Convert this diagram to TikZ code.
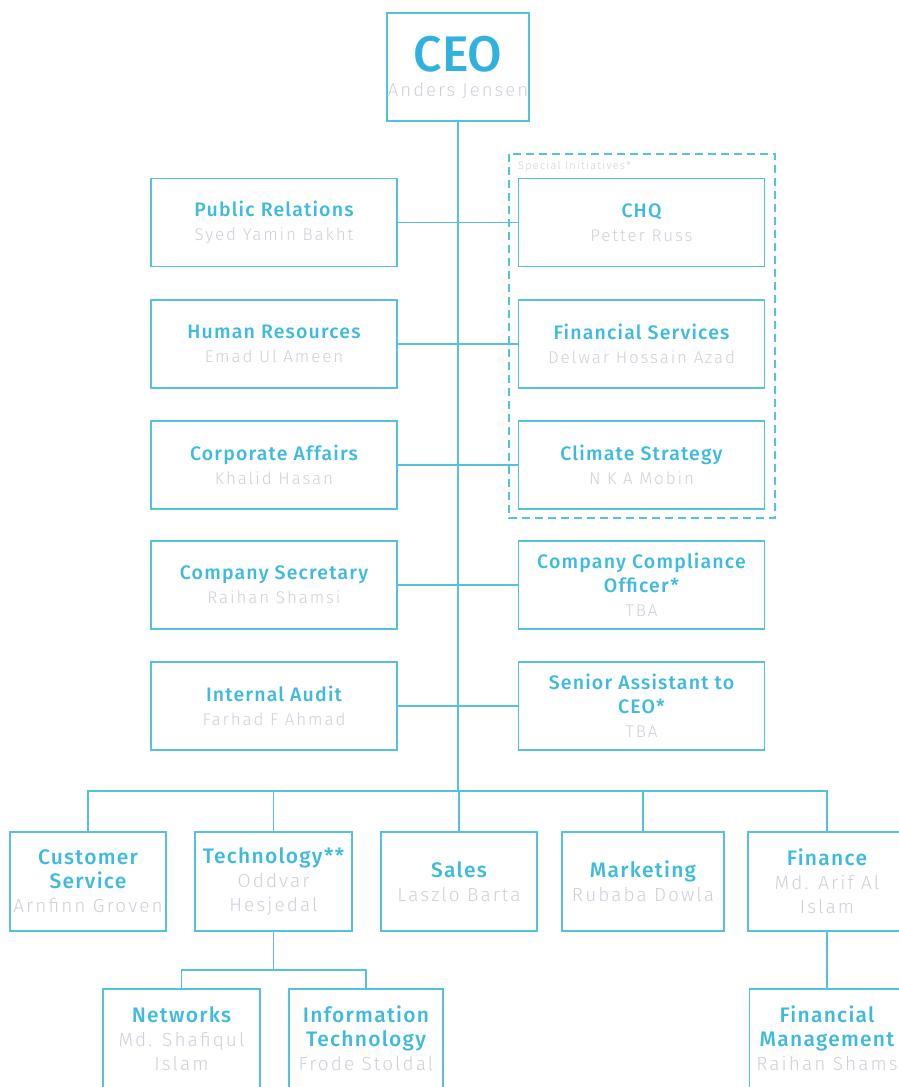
\documentclass[tikz,border=0pt]{standalone}
\usepackage{fontspec}
\setmainfont{Fira Sans}[BoldFont={Fira Sans Medium}]
\newfontfamily\ttlfont{Fira Sans}[BoldFont={Fira Sans Medium}, LetterSpace=6]
\newfontfamily\namefont{Fira Sans Light}[LetterSpace=11]
\definecolor{boxline}{HTML}{52C3DA}
\definecolor{titlecol}{HTML}{3EBADC}
\definecolor{ceocol}{HTML}{2FB2E0}
\definecolor{namecol}{HTML}{CFCFDC}
% person names: side boxes and lower boxes
\newcommand\who[1]{{\color{namecol}\fontsize{17}{24}\namefont\mdseries #1}}
\newcommand\whob[1]{{\color{namecol}\fontsize{19}{24}\namefont\mdseries #1}}
\begin{document}
\begin{tikzpicture}[x=1pt,y=-1pt,
  unitbox/.style={draw=boxline, line width=1.5pt, rectangle, inner sep=0pt,
    align=center, text=titlecol, font=\fontsize{19.5}{24}\ttlfont\bfseries},
  sidebox/.style={unitbox, minimum width=246pt, minimum height=88pt},
  lowbox/.style={unitbox, minimum height=99pt, font=\fontsize{21}{24}\ttlfont\bfseries},
  link/.style={draw=boxline, line width=1.5pt},
  dashbox/.style={draw=boxline, line width=1.5pt, dash pattern=on 8pt off 5pt},
]
\clip (0,0) rectangle (899,1087);
\fill[white] (0,0) rectangle (899,1087);

% top
\node[unitbox, minimum width=142pt, minimum height=108pt] (ceo) at (458,67)
  {{\fontsize{50}{50}\rmfamily\bfseries\color{ceocol}CEO}\\[1pt]{\color{namecol}\fontsize{18.5}{24}\namefont\mdseries Anders Jensen}};

% staff functions, left column
\node[sidebox] (pr)  at (274,222.5) {Public Relations\\\who{Syed Yamin Bakht}};
\node[sidebox] (hr)  at (274,344)   {Human Resources\\\who{Emad Ul Ameen}};
\node[sidebox] (ca)  at (274,465)   {Corporate Affairs\\\who{Khalid Hasan}};
\node[sidebox] (sec) at (274,585)   {Company Secretary\\\who{Raihan Shamsi}};
\node[sidebox] (ia)  at (274,706)   {Internal Audit\\\who{Farhad F Ahmad}};

% right column
\node[sidebox] (chq)  at (641.5,222.5) {CHQ\\\who{Petter Russ}};
\node[sidebox] (fs)   at (641.5,344)   {Financial Services\\\who{Delwar Hossain Azad}};
\node[sidebox] (cs2)  at (641.5,465)   {Climate Strategy\\\who{N K A Mobin}};
\node[sidebox] (cco)  at (641.5,585)   {Company Compliance\\Officer*\\\who{TBA}};
\node[sidebox] (sa)   at (641.5,706)   {Senior Assistant to\\CEO*\\\who{TBA}};

% special initiatives group
\draw[dashbox] (509,154) rectangle (775,518);
\node[anchor=west, inner sep=0pt, text=namecol, font=\fontsize{11}{13}\namefont] (silabel) at (518,166) {Special Initiatives*};

% business units
\node[lowbox, minimum width=156pt] (cs)   at (88,881.5)  {Customer\\Service\\\whob{Arnfinn Groven}};
\node[lowbox, minimum width=157pt] (tech) at (273.5,881.5) {Technology**\\\whob{Oddvar}\\\whob{Hesjedal}};
\node[lowbox, minimum width=156pt] (sal)  at (459,881.5) {Sales\\\whob{Laszlo Barta}};
\node[lowbox, minimum width=162pt] (mkt)  at (643,881.5) {Marketing\\\whob{Rubaba Dowla}};
\node[lowbox, minimum width=158pt] (fin)  at (827,881.5) {Finance\\\whob{Md. Arif Al}\\\whob{Islam}};

% second level
\node[lowbox, minimum width=157pt] (net) at (181.5,1038.5) {Networks\\\whob{Md. Shafiqul}\\\whob{Islam}};
\node[lowbox, minimum width=154pt] (it)  at (366,1038.5)   {Information\\Technology\\\whob{Frode Stoldal}};
\node[lowbox, minimum width=155pt] (fm)  at (827,1038.5)   {Financial\\Management\\\whob{Raihan Shams}};

% connectors
\coordinate (bus) at (459,791);
\coordinate (tbus) at (0,970);
\draw[link] (ceo.south) -- (ceo.south |- bus);
\draw[link] (pr.east) -- (chq.west);
\draw[link] (hr.east) -- (fs.west);
\draw[link] (ca.east) -- (cs2.west);
\draw[link] (sec.east) -- (cco.west);
\draw[link] (ia.east) -- (sa.west);
\draw[link] (cs.north) -- (cs.north |- bus) -- (fin.north |- bus) -- (fin.north);
\draw[link] (tech.north) -- (tech.north |- bus);
\draw[link] (sal.north) -- (sal.north |- bus);
\draw[link] (mkt.north) -- (mkt.north |- bus);
\draw[link] (tech.south) -- (tech.south |- tbus);
\draw[link] (net.north) -- (net.north |- tbus) -- (it.north |- tbus) -- (it.north);
\draw[link] (fin.south) -- (fm.north);
\end{tikzpicture}
\end{document}
